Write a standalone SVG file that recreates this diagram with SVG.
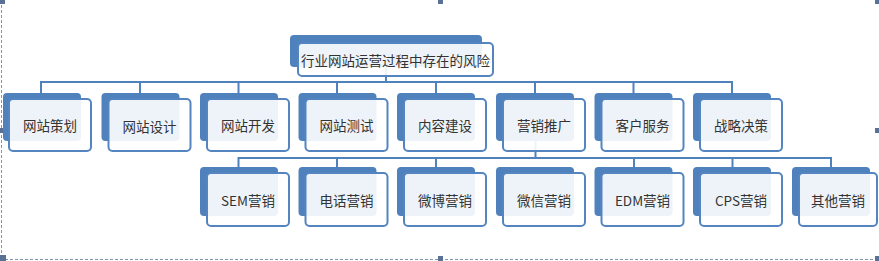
<svg xmlns="http://www.w3.org/2000/svg" width="879" height="261" viewBox="0 0 879 261">
<style>
.bk{fill:#4F81BD;}
.fr{fill:#FFFFFF;fill-opacity:0.9;stroke:#5585C0;stroke-width:2;}
.t{font-family:"Noto Sans CJK SC","Microsoft YaHei",sans-serif;font-size:13.5px;fill:#333333;text-anchor:middle;dominant-baseline:central;}
.cn{fill:none;stroke:#4F81BD;stroke-width:2;}
.fm{fill:none;stroke:#8096AD;stroke-width:1;stroke-dasharray:3 2;}
.hd{fill:#5A7196;}
</style>
<rect width="879" height="261" fill="#FFFFFF"/>
<g id="frame">
<line class="fm" x1="1.5" y1="0" x2="1.5" y2="261"/>
<line class="fm" x1="0" y1="259.5" x2="879" y2="259.5"/>
<rect class="hd" x="0" y="0" width="5" height="4"/>
<rect class="hd" x="438" y="0" width="5" height="4"/>
<rect class="hd" x="875" y="0" width="4" height="4"/>
<rect class="hd" x="0" y="128" width="5" height="5"/>
<rect class="hd" x="875" y="128" width="4" height="5"/>
<rect class="hd" x="0" y="255" width="6" height="6"/>
<rect class="hd" x="438" y="256" width="5" height="5"/>
<rect class="hd" x="875" y="256" width="4" height="5"/>
</g>
<g id="connectors">
<path class="cn" d="M386,67 V82 M41,93 V82 H732 V93 M140,82 V93 M238.5,82 V93 M337,82 V93 M436,82 V93 M535,82 V93 M633.5,82 V93"/>
<path class="cn" d="M535.5,141 V158 M238.5,167 V158 H831 V167 M337,158 V167 M436,158 V167 M634,158 V167 M732.5,158 V167"/>
</g>
<g id="root">
<rect class="bk" x="290" y="35" width="192" height="32" rx="4"/>
<rect class="fr" x="298" y="43" width="195" height="33" rx="4"/>
<text class="t" x="395.5" y="60">行业网站运营过程中存在的风险</text>
</g>
<g id="n1">
<rect class="bk" x="3" y="93" width="78" height="48" rx="4"/>
<rect class="fr" x="9" y="99" width="82" height="52" rx="4"/>
<text class="t" x="50" y="125">网站策划</text>
</g>
<g id="n2">
<rect class="bk" x="101.5" y="93" width="78" height="48" rx="4"/>
<rect class="fr" x="108.5" y="99" width="82" height="52" rx="4"/>
<text class="t" x="149.5" y="126">网站设计</text>
</g>
<g id="n3">
<rect class="bk" x="200" y="93" width="78" height="48" rx="4"/>
<rect class="fr" x="207" y="99" width="82" height="52" rx="4"/>
<text class="t" x="248" y="125">网站开发</text>
</g>
<g id="n4">
<rect class="bk" x="298.5" y="93" width="78" height="48" rx="4"/>
<rect class="fr" x="305.5" y="99" width="82" height="52" rx="4"/>
<text class="t" x="346.5" y="125">网站测试</text>
</g>
<g id="n5">
<rect class="bk" x="397" y="93" width="78" height="48" rx="4"/>
<rect class="fr" x="404" y="99" width="82" height="52" rx="4"/>
<text class="t" x="445" y="125">内容建设</text>
</g>
<g id="n6">
<rect class="bk" x="496" y="93" width="78" height="48" rx="4"/>
<rect class="fr" x="503" y="99" width="82" height="52" rx="4"/>
<text class="t" x="544" y="125">营销推广</text>
</g>
<g id="n7">
<rect class="bk" x="594.5" y="93" width="78" height="48" rx="4"/>
<rect class="fr" x="601.5" y="99" width="82" height="52" rx="4"/>
<text class="t" x="642.5" y="125">客户服务</text>
</g>
<g id="n8">
<rect class="bk" x="693" y="93" width="78" height="48" rx="4"/>
<rect class="fr" x="700" y="99" width="82" height="52" rx="4"/>
<text class="t" x="741" y="125">战略决策</text>
</g>
<g id="m1">
<rect class="bk" x="200" y="167" width="78" height="49" rx="4"/>
<rect class="fr" x="207" y="173" width="82" height="53" rx="4"/>
<text class="t" x="248" y="200">SEM营销</text>
</g>
<g id="m2">
<rect class="bk" x="298.5" y="167" width="78" height="49" rx="4"/>
<rect class="fr" x="305.5" y="173" width="82" height="53" rx="4"/>
<text class="t" x="346.5" y="200">电话营销</text>
</g>
<g id="m3">
<rect class="bk" x="397" y="167" width="78" height="49" rx="4"/>
<rect class="fr" x="404" y="173" width="82" height="53" rx="4"/>
<text class="t" x="445" y="200">微博营销</text>
</g>
<g id="m4">
<rect class="bk" x="496" y="167" width="78" height="49" rx="4"/>
<rect class="fr" x="503" y="173" width="82" height="53" rx="4"/>
<text class="t" x="544" y="200">微信营销</text>
</g>
<g id="m5">
<rect class="bk" x="594.5" y="167" width="78" height="49" rx="4"/>
<rect class="fr" x="601.5" y="173" width="82" height="53" rx="4"/>
<text class="t" x="642.5" y="200">EDM营销</text>
</g>
<g id="m6">
<rect class="bk" x="693" y="167" width="78" height="49" rx="4"/>
<rect class="fr" x="700" y="173" width="82" height="53" rx="4"/>
<text class="t" x="741" y="200">CPS营销</text>
</g>
<g id="m7">
<rect class="bk" x="792" y="167" width="78" height="49" rx="4"/>
<rect class="fr" x="799" y="173" width="78" height="53" rx="4"/>
<text class="t" x="838" y="200">其他营销</text>
</g>
</svg>
